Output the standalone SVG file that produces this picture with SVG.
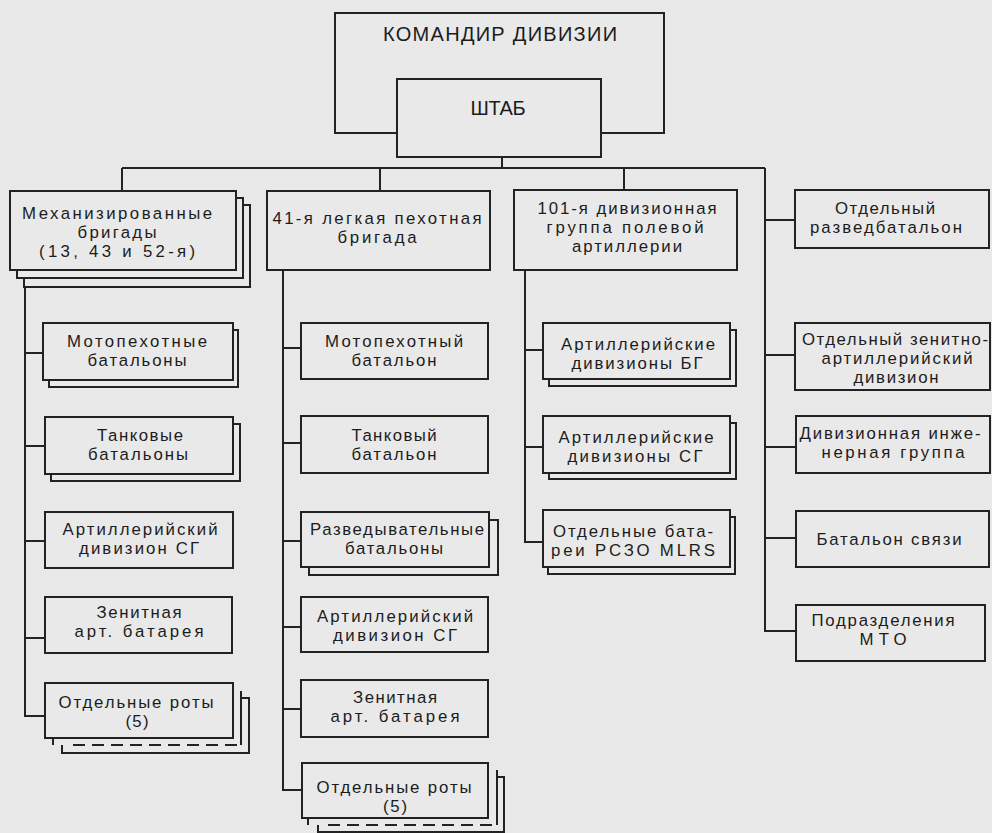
<svg xmlns="http://www.w3.org/2000/svg" width="992" height="833" viewBox="0 0 992 833">
<style>
.bg{fill:#e8e8e8}
.box{fill:#e9e9e9;stroke:#222;stroke-width:2}
.fill{fill:#e9e9e9;stroke:none}
.edge{fill:none;stroke:#222;stroke-width:2}
.dash{fill:none;stroke:#222;stroke-width:2;stroke-dasharray:12 7}
.c{fill:none;stroke:#222;stroke-width:2}
.t{font-family:"Liberation Sans",Arial,sans-serif;font-size:16.8px;fill:#1c1c1c;text-anchor:middle}
.h{font-size:20px}
</style>
<rect class="bg" x="0" y="0" width="992" height="833"/>

<g id="connectors">
<path class="c" d="M502 157V168M122 168H765M122 168V191M380 168V191M624 168V190"/>
<path class="c" d="M765 168V631H796M765 220H795M765 355H795M765 447H796M765 538H796"/>
<path class="c" d="M25 287V716H45M25 353H43M25 446H45M25 541H45M25 638H45"/>
<path class="c" d="M283 270V790H302M283 348H301M283 443H301M283 541H301M283 627H301M283 709H301"/>
<path class="c" d="M525 270V542H543M525 350H543M525 447H543"/>
</g>

<g id="commander">
<rect class="box" x="335" y="13" width="329" height="120"/>
<text class="t h" x="500" y="41" textLength="234" lengthAdjust="spacing">КОМАНДИР ДИВИЗИИ</text>
</g>
<g id="staff">
<rect class="box" x="397" y="79" width="204" height="78"/>
<text class="t h" x="498" y="115" textLength="55" lengthAdjust="spacing">ШТАБ</text>
</g>

<g id="mech-brigades">
<rect class="box" x="24" y="205" width="226" height="82"/>
<rect class="box" x="17" y="198" width="226" height="80"/>
<rect class="box" x="10" y="191" width="226" height="79"/>
<text class="t" x="117" y="219" textLength="190" lengthAdjust="spacing">Механизированные</text>
<text class="t" x="117" y="238" textLength="79" lengthAdjust="spacing">бригады</text>
<text class="t" x="117" y="257" textLength="156" lengthAdjust="spacing">(13,  43  и  52-я)</text>
</g>

<g id="light-infantry-brigade">
<rect class="box" x="267" y="191" width="223" height="79"/>
<text class="t" x="377" y="224" textLength="209" lengthAdjust="spacing">41-я  легкая  пехотная</text>
<text class="t" x="377" y="243" textLength="79" lengthAdjust="spacing">бригада</text>
</g>

<g id="artillery-group">
<rect class="box" x="514" y="190" width="223" height="80"/>
<text class="t" x="627" y="214" textLength="179" lengthAdjust="spacing">101-я  дивизионная</text>
<text class="t" x="625" y="233" textLength="157" lengthAdjust="spacing">группа  полевой</text>
<text class="t" x="627" y="252" textLength="110" lengthAdjust="spacing">артиллерии</text>
</g>

<g id="recon-battalion">
<rect class="box" x="795" y="190" width="194" height="58"/>
<text class="t" x="885" y="214" textLength="100" lengthAdjust="spacing">Отдельный</text>
<text class="t" x="886" y="233" textLength="152" lengthAdjust="spacing">разведбатальон</text>
</g>

<g id="l-mech-inf">
<rect class="box" x="49" y="330" width="189" height="57"/>
<rect class="box" x="43" y="323" width="190" height="57"/>
<text class="t" x="137" y="347" textLength="140" lengthAdjust="spacing">Мотопехотные</text>
<text class="t" x="137" y="366" textLength="99" lengthAdjust="spacing">батальоны</text>
</g>
<g id="l-tank">
<rect class="box" x="51" y="424" width="189" height="57"/>
<rect class="box" x="45" y="417" width="188" height="57"/>
<text class="t" x="140" y="441" textLength="86" lengthAdjust="spacing">Танковые</text>
<text class="t" x="138" y="460" textLength="100" lengthAdjust="spacing">батальоны</text>
</g>
<g id="l-artillery">
<rect class="box" x="45" y="512" width="188" height="56"/>
<text class="t" x="140" y="535" textLength="155" lengthAdjust="spacing">Артиллерийский</text>
<text class="t" x="139" y="554" textLength="120" lengthAdjust="spacing">дивизион  СГ</text>
</g>
<g id="l-aa">
<rect class="box" x="45" y="597" width="187" height="56"/>
<text class="t" x="139" y="618" textLength="85" lengthAdjust="spacing">Зенитная</text>
<text class="t" x="139" y="637" textLength="129" lengthAdjust="spacing">арт.  батарея</text>
</g>
<g id="l-companies">
<rect class="box" x="62" y="698" width="187" height="55"/>
<rect class="fill" x="53" y="691" width="188" height="54"/>
<path class="edge" d="M53 738V745M241 691V745"/>
<path class="dash" d="M73 745H241"/>
<rect class="box" x="45" y="683" width="188" height="55"/>
<text class="t" x="136" y="708" textLength="155" lengthAdjust="spacing">Отдельные  роты</text>
<text class="t" x="137" y="727" textLength="23" lengthAdjust="spacing">(5)</text>
</g>

<g id="m-mech-inf">
<rect class="box" x="301" y="323" width="187" height="56"/>
<text class="t" x="394" y="347" textLength="138" lengthAdjust="spacing">Мотопехотный</text>
<text class="t" x="394" y="366" textLength="85" lengthAdjust="spacing">батальон</text>
</g>
<g id="m-tank">
<rect class="box" x="301" y="416" width="187" height="57"/>
<text class="t" x="394" y="441" textLength="85" lengthAdjust="spacing">Танковый</text>
<text class="t" x="394" y="460" textLength="85" lengthAdjust="spacing">батальон</text>
</g>
<g id="m-recon">
<rect class="box" x="309" y="520" width="189" height="55"/>
<rect class="box" x="301" y="512" width="188" height="55"/>
<text class="t" x="397" y="535" textLength="174" lengthAdjust="spacing">Разведывательные</text>
<text class="t" x="394" y="554" textLength="98" lengthAdjust="spacing">батальоны</text>
</g>
<g id="m-artillery">
<rect class="box" x="301" y="597" width="187" height="55"/>
<text class="t" x="395" y="622" textLength="156" lengthAdjust="spacing">Артиллерийский</text>
<text class="t" x="395" y="641" textLength="124" lengthAdjust="spacing">дивизион  СГ</text>
</g>
<g id="m-aa">
<rect class="box" x="301" y="680" width="187" height="57"/>
<text class="t" x="395" y="703" textLength="84" lengthAdjust="spacing">Зенитная</text>
<text class="t" x="395" y="722" textLength="129" lengthAdjust="spacing">арт.  батарея</text>
</g>
<g id="m-companies">
<rect class="box" x="318" y="777" width="186" height="55"/>
<rect class="fill" x="308" y="770" width="189" height="55"/>
<path class="edge" d="M308 818V825M497 770V825"/>
<path class="dash" d="M328 825H497"/>
<rect class="box" x="302" y="763" width="186" height="55"/>
<text class="t" x="394" y="793" textLength="155" lengthAdjust="spacing">Отдельные  роты</text>
<text class="t" x="395" y="812" textLength="24" lengthAdjust="spacing">(5)</text>
</g>

<g id="a-bg">
<rect class="box" x="549" y="330" width="187" height="56"/>
<rect class="box" x="543" y="323" width="187" height="56"/>
<text class="t" x="638" y="350" textLength="154" lengthAdjust="spacing">Артиллерийские</text>
<text class="t" x="637" y="369" textLength="131" lengthAdjust="spacing">дивизионы  БГ</text>
</g>
<g id="a-sg">
<rect class="box" x="549" y="423" width="187" height="56"/>
<rect class="box" x="543" y="416" width="187" height="57"/>
<text class="t" x="636" y="443" textLength="155" lengthAdjust="spacing">Артиллерийские</text>
<text class="t" x="635" y="462" textLength="135" lengthAdjust="spacing">дивизионы  СГ</text>
</g>
<g id="a-mlrs">
<rect class="box" x="548" y="517" width="187" height="57"/>
<rect class="box" x="543" y="510" width="187" height="57"/>
<text class="t" x="633" y="537" textLength="160" lengthAdjust="spacing">Отдельные  бата-</text>
<text class="t" x="633" y="556" textLength="164" lengthAdjust="spacing">реи  РСЗО  MLRS</text>
</g>

<g id="r-aa">
<rect class="box" x="795" y="323" width="195" height="67"/>
<text class="t" x="895" y="345" textLength="186" lengthAdjust="spacing">Отдельный  зенитно-</text>
<text class="t" x="897" y="364" textLength="151" lengthAdjust="spacing">артиллерийский</text>
<text class="t" x="896" y="383" textLength="85" lengthAdjust="spacing">дивизион</text>
</g>
<g id="r-engineer">
<rect class="box" x="796" y="416" width="194" height="57"/>
<text class="t" x="890" y="439" textLength="181" lengthAdjust="spacing">Дивизионная  инже-</text>
<text class="t" x="893" y="458" textLength="143" lengthAdjust="spacing">нерная  группа</text>
</g>
<g id="r-signal">
<rect class="box" x="796" y="511" width="193" height="56"/>
<text class="t" x="889" y="545" textLength="145" lengthAdjust="spacing">Батальон  связи</text>
</g>
<g id="r-logistics">
<rect class="box" x="796" y="605" width="189" height="56"/>
<text class="t" x="883" y="626" textLength="143" lengthAdjust="spacing">Подразделения</text>
<text class="t" x="883" y="645" textLength="47" lengthAdjust="spacing">МТО</text>
</g>
</svg>
